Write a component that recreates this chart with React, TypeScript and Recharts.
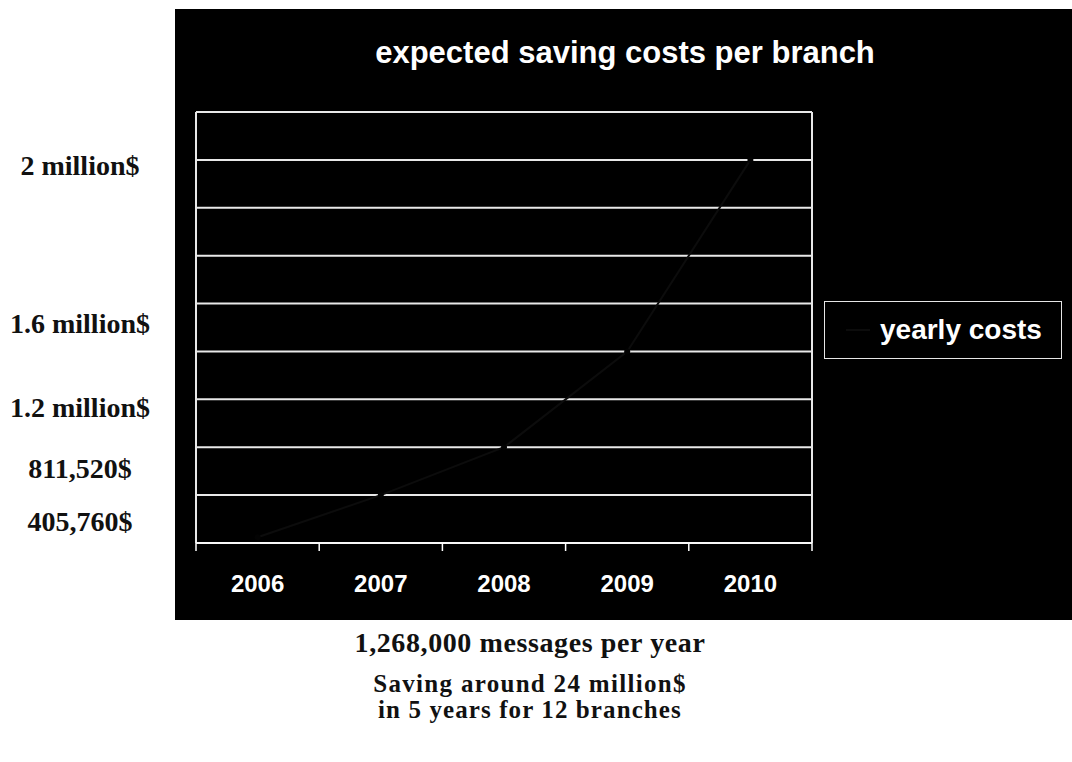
import { LineChart, Line, XAxis, YAxis, CartesianGrid, Legend } from 'recharts';

const years = ['2006', '2007', '2008', '2009', '2010'];
const yearlyCosts = [30000, 250000, 500000, 1000000, 2000000];

// horizontal grid every 250k, top of plot = 2.25 million
const gridTicks = [0, 250000, 500000, 750000, 1000000, 1250000, 1500000, 1750000, 2000000, 2250000];

// the serif labels on the left, placed by value on the same scale
const sideLabelValues = [1973000, 1148000, 710000, 391000, 115000];
const sideLabelTexts = ['2 million$', '1.6 million$', '1.2 million$', '811,520$', '405,760$'];

const rows = years.map((year, i) => ({ year, cost: yearlyCosts[i] }));

const sans = '"Liberation Sans", Arial, sans-serif';
const serif = '"Liberation Serif", "Times New Roman", serif';

function SideTick({ y, payload }: any) {
    const i = sideLabelValues.indexOf(payload.value);
    return (
        <text x={80} y={y} dy="0.35em" textAnchor="middle" fill="#111" fontFamily={serif} fontWeight={700} fontSize={28}>
            {sideLabelTexts[i]}
        </text>
    );
}

// year label in the middle of its band, tick marks on the band edges (excel style)
function YearTick({ x, y, width, visibleTicksCount, index, payload }: any) {
    const n = visibleTicksCount || years.length;
    const half = (width || 616) / n / 2;
    return (
        <g>
            <line x1={x - half} x2={x - half} y1={y} y2={y + 8} stroke="#fff" strokeWidth={1.5} />
            {index === n - 1 && <line x1={x + half} x2={x + half} y1={y} y2={y + 8} stroke="#fff" strokeWidth={1.5} />}
            <text x={x} y={y + 32} dy="0.71em" textAnchor="middle" fill="#fff" fontFamily={sans} fontWeight={700} fontSize={24}>
                {payload.value}
            </text>
        </g>
    );
}

function YearlyLegend({ payload }: any) {
    const item = payload && payload[0];
    return (
        <div style={{
            boxSizing: 'border-box', width: 238, height: 58, border: '1.5px solid #e6e6e6',
            display: 'flex', alignItems: 'center',
        }}>
            <svg width={24} height={4} style={{ marginLeft: 21 }}>
                <line x1={0} y1={2} x2={24} y2={2} stroke={item ? item.color : '#0c0c0c'} strokeWidth={2} />
            </svg>
            <span style={{ marginLeft: 10, color: '#fff', fontFamily: sans, fontWeight: 700, fontSize: 28 }}>
                {item ? item.value : ''}
            </span>
        </div>
    );
}

export default function App() {
    return (
        <div style={{ position: 'absolute', left: 0, top: 0, width: 1072, height: 762, background: '#fff', overflow: 'hidden' }}>
            <div style={{ position: 'absolute', left: 175, top: 9, width: 897, height: 611, background: '#000' }} />
            <div style={{
                position: 'absolute', left: 175, top: 38, width: 900, textAlign: 'center', lineHeight: '30px',
                color: '#fff', fontFamily: sans, fontWeight: 700, fontSize: 31,
            }}>
                expected saving costs per branch
            </div>
            <div style={{ position: 'absolute', left: 0, top: 0 }}>
                <LineChart width={1072} height={762} data={rows} margin={{ top: 112, right: 260, bottom: 149, left: 0 }}>
                    {/* horizontal lines + the plot's left/right border */}
                    <CartesianGrid
                        xAxisId="year"
                        stroke="#e8e8e8"
                        strokeWidth={2}
                        verticalCoordinatesGenerator={({ offset }: any) => [offset.left, offset.left + offset.width]}
                    />
                    <XAxis
                        xAxisId="year"
                        dataKey="year"
                        scale="band"
                        height={70}
                        interval={0}
                        tickSize={0}
                        tickMargin={0}
                        tickLine={false}
                        axisLine={{ stroke: '#fff', strokeWidth: 1.5 }}
                        tick={<YearTick />}
                    />
                    <YAxis domain={[0, 2250000]} ticks={gridTicks} hide />
                    <YAxis
                        yAxisId="side"
                        domain={[0, 2250000]}
                        allowDataOverflow
                        ticks={sideLabelValues}
                        interval={0}
                        width={196}
                        tick={<SideTick />}
                        tickLine={false}
                        axisLine={false}
                    />
                    <Legend
                        layout="horizontal"
                        align="center"
                        verticalAlign="middle"
                        content={(props: any) => <YearlyLegend {...props} />}
                        wrapperStyle={{ left: 824, top: 301, width: 238, height: 58 }}
                    />
                    <Line
                        xAxisId="year"
                        type="linear"
                        dataKey="cost"
                        name="yearly costs"
                        stroke="#0c0c0c"
                        strokeWidth={2}
                        dot={{ r: 3, fill: '#030303', stroke: 'none' }}
                        isAnimationActive={false}
                    />
                </LineChart>
            </div>
            <div style={{
                position: 'absolute', left: 330, top: 629, width: 400, textAlign: 'center', lineHeight: '28px',
                color: '#111', fontFamily: serif, fontWeight: 700, fontSize: 28, letterSpacing: 0.6,
            }}>
                1,268,000 messages per year
            </div>
            <div style={{
                position: 'absolute', left: 330, top: 670, width: 400, textAlign: 'center', lineHeight: '27px',
                color: '#111', fontFamily: serif, fontWeight: 700, fontSize: 25, letterSpacing: 1.3,
            }}>
                Saving around 24 million$
            </div>
            <div style={{
                position: 'absolute', left: 330, top: 696, width: 400, textAlign: 'center', lineHeight: '27px',
                color: '#111', fontFamily: serif, fontWeight: 700, fontSize: 25, letterSpacing: 1.1,
            }}>
                in 5 years for 12 branches
            </div>
        </div>
    );
}
